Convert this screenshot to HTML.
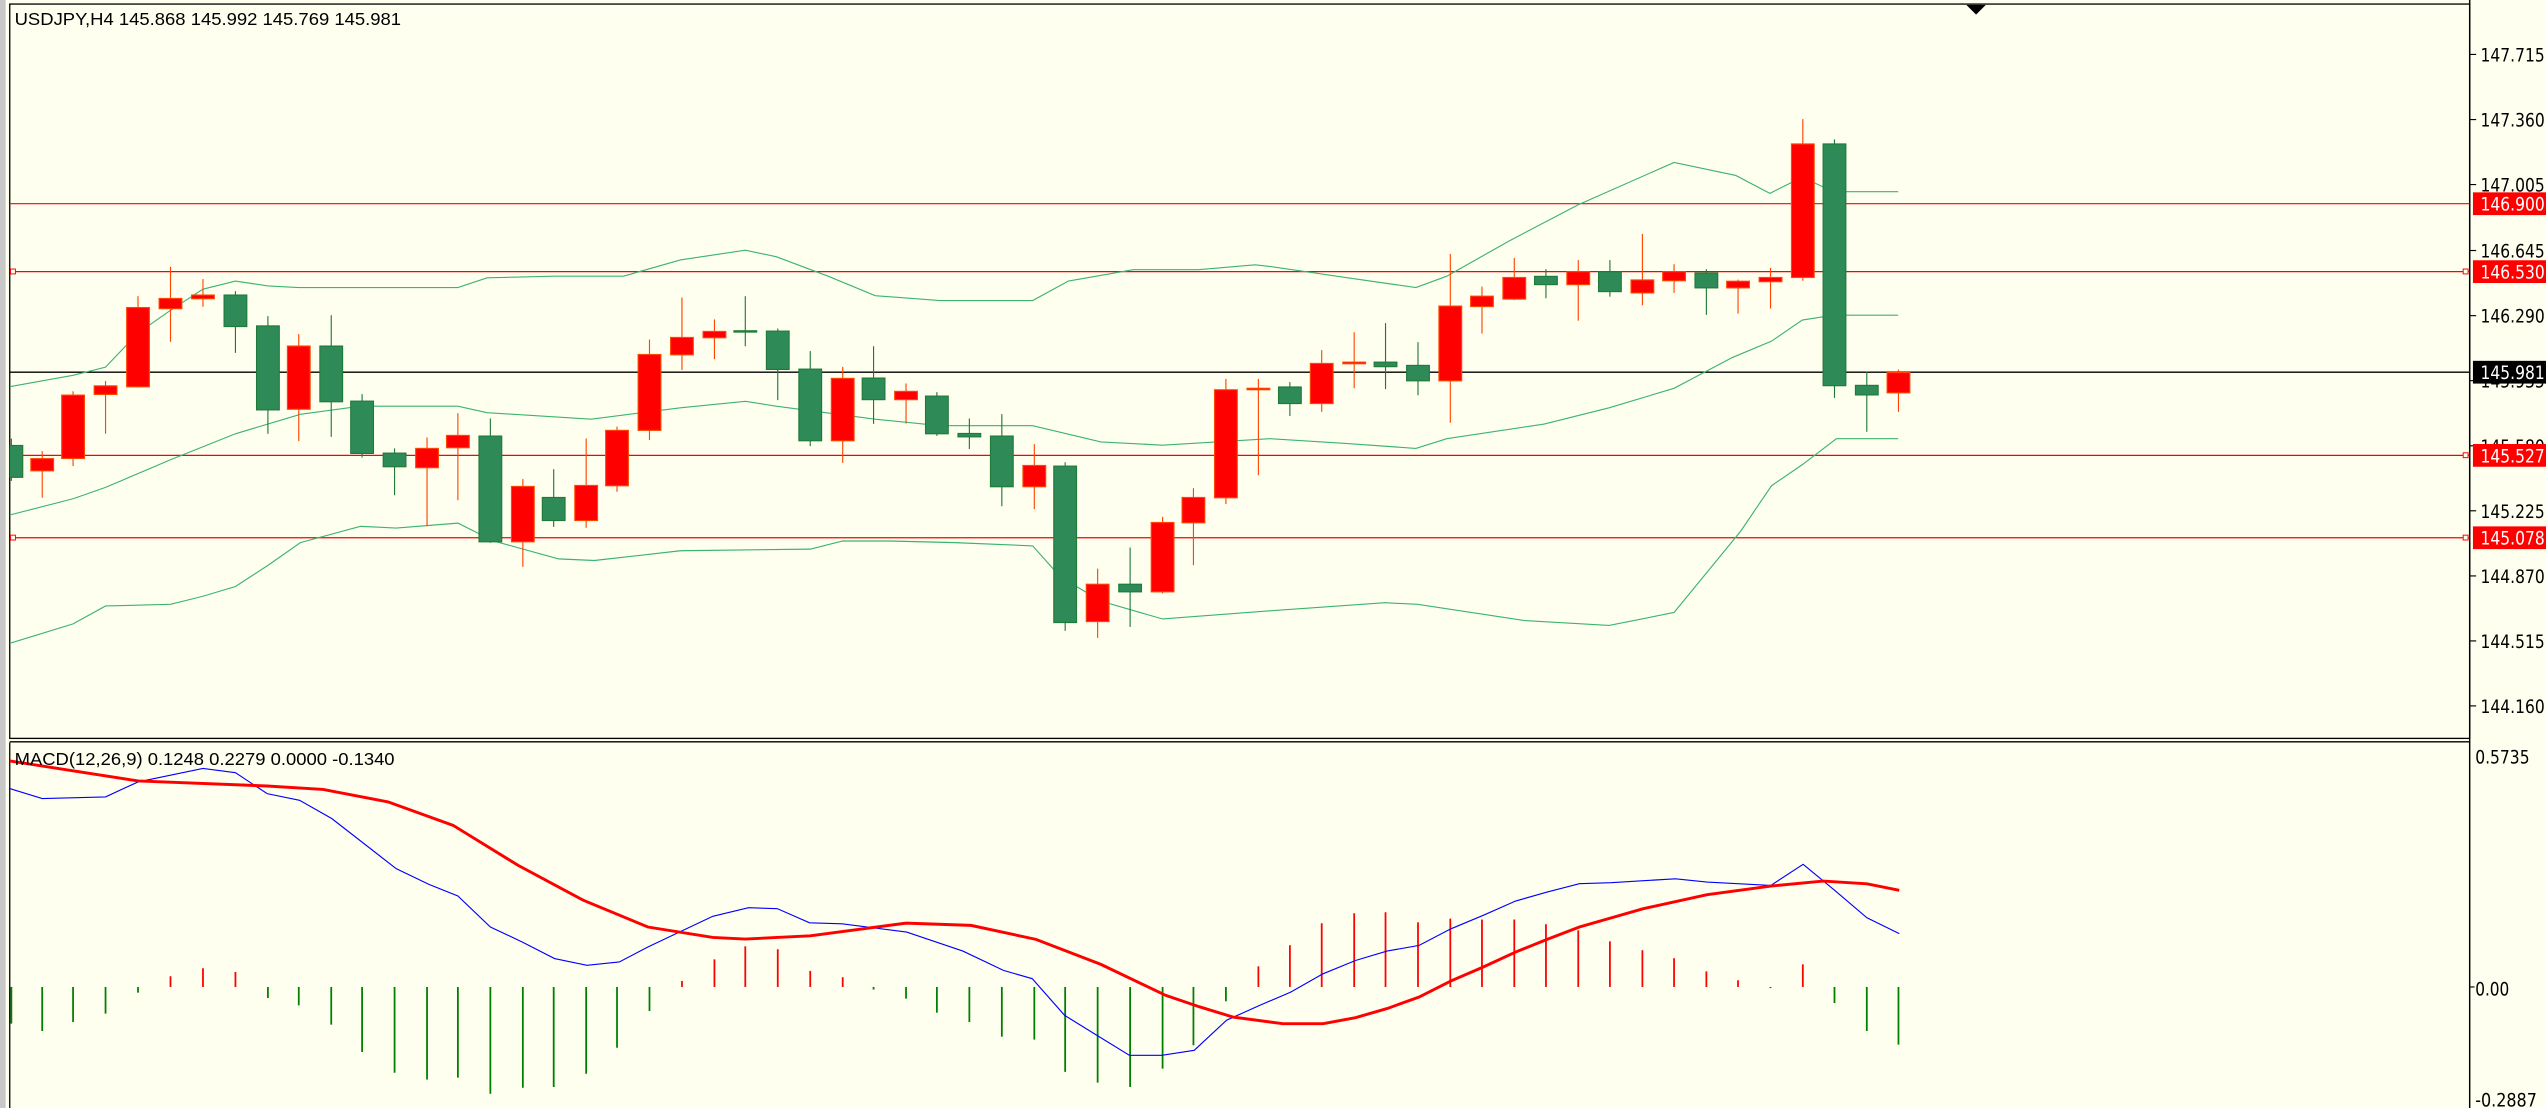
<!DOCTYPE html>
<html><head><meta charset="utf-8"><style>
html,body{margin:0;padding:0;background:#fffff0;overflow:hidden}
svg{display:block}
text{font-family:"DejaVu Sans","Liberation Sans",sans-serif}
.t{font-family:"Liberation Sans",sans-serif;font-size:11px;fill:#000}
.ax{font-size:11.5px;fill:#000}
.lw{font-size:11.5px;fill:#fff}
.r line{stroke:#ff4500;stroke-width:0.7}
.r rect{fill:#ff0000;stroke:#ff4500;stroke-width:0.7}
.g line{stroke:#1f7a3a;stroke-width:0.7}
.g rect{fill:#2e8b57;stroke:#1f7a3a;stroke-width:0.7}
</style></head><body>
<svg width="2546" height="1108" viewBox="0 0 1568 682" preserveAspectRatio="none" xmlns="http://www.w3.org/2000/svg">
<rect x="0" y="0" width="1568" height="682" fill="#fffff0"/>
<rect x="0" y="0" width="3.5" height="682" fill="#c8c8c8"/>
<defs><clipPath id="cp"><rect x="6" y="3" width="1515" height="452"/></clipPath>
<clipPath id="cm"><rect x="6" y="458" width="1515" height="224"/></clipPath></defs>
<!-- pane borders -->
<rect x="6" y="2.5" width="1515" height="452" fill="none" stroke="#000" stroke-width="0.8"/>
<line x1="6" y1="456.6" x2="1521" y2="456.6" stroke="#000" stroke-width="0.8"/>
<line x1="6" y1="457" x2="6" y2="682" stroke="#000" stroke-width="0.8"/>
<line x1="1521" y1="0" x2="1521" y2="682" stroke="#000" stroke-width="0.9"/>
<polygon points="1211,3 1223,3 1217,9" fill="#000"/>
<g clip-path="url(#cp)">
<!-- horizontal lines -->
<line x1="6" y1="125.4" x2="1521" y2="125.4" stroke="#ff0000" stroke-width="0.7"/>
<line x1="6" y1="167.2" x2="1521" y2="167.2" stroke="#ff0000" stroke-width="0.8"/>
<line x1="6" y1="280.3" x2="1521" y2="280.3" stroke="#ff0000" stroke-width="0.8"/>
<line x1="6" y1="331" x2="1521" y2="331" stroke="#ff0000" stroke-width="0.8"/>
<line x1="6" y1="229.1" x2="1521" y2="229.1" stroke="#000" stroke-width="0.8"/>
<g fill="#fffff0" stroke="#ff0000" stroke-width="0.6">
<rect x="6.5" y="165.6" width="3" height="3"/><rect x="6.5" y="278.7" width="3" height="3"/><rect x="6.5" y="329.4" width="3" height="3"/>
<rect x="1517" y="165.6" width="3" height="3"/><rect x="1517" y="278.7" width="3" height="3"/><rect x="1517" y="329.4" width="3" height="3"/>
</g>
<!-- bands -->
<g fill="none" stroke="#3cb371" stroke-width="0.7">
<polyline points="6,238 45,231 65,226 85,205 105,191 125,178 145,173 165,176 184,177 224,177 263,177 282,177 300,171 341,170 384,170 419,160 459,154 478,158 510,170 539,182 579,185 636,185 658,173 698,166 738,166 773,163 782,164 830,171 872,177 891,170 930,148 972,126 1031,100 1069,108 1090,119 1110,109 1129,118 1169,118"/>
<polyline points="6,317 45,307 65,300 105,283 145,267 185,255 222,250 282,250 300,254 364,258 419,251 459,247 478,250 539,258 579,262 636,262 678,272 716,274 782,270 830,273 872,276 891,270 951,261 991,251 1031,239 1067,220 1091,210 1110,197 1129,194 1169,194"/>
<polyline points="6,396 45,384 65,373 105,372 125,367 145,361 165,348 185,334 222,324 244,325 282,322 304,333 344,344 366,345 419,339 499,338 519,333 548,333 588,334 636,336 653,355 678,370 716,381 782,376 853,371 873,372 939,382 991,385 1031,377 1072,327 1091,299 1110,286 1131,270 1169,270"/>
</g>
<!-- candles -->
<g class="g"><line x1="7" y1="270" x2="7" y2="296"/><rect x="0" y="274.2" width="14" height="19.6"/></g>
<g class="r"><line x1="26" y1="277.7" x2="26" y2="306.4"/><rect x="19" y="282.3" width="14" height="7.5"/></g>
<g class="r"><line x1="45" y1="240.8" x2="45" y2="286.9"/><rect x="38" y="243.2" width="14" height="39"/></g>
<g class="r"><line x1="65" y1="234.5" x2="65" y2="267"/><rect x="58" y="237.5" width="14" height="5.3"/></g>
<g class="r"><line x1="85" y1="182.3" x2="85" y2="238.5"/><rect x="78" y="189.3" width="14" height="48.8"/></g>
<g class="r"><line x1="105" y1="164.2" x2="105" y2="210.4"/><rect x="98" y="183.7" width="14" height="6.3"/></g>
<g class="r"><line x1="125" y1="171.8" x2="125" y2="188.8"/><rect x="118" y="181.6" width="14" height="2.3"/></g>
<g class="g"><line x1="145" y1="179.2" x2="145" y2="217.2"/><rect x="138" y="181.6" width="14" height="19.4"/></g>
<g class="g"><line x1="165" y1="194.6" x2="165" y2="267"/><rect x="158" y="200.6" width="14" height="51.7"/></g>
<g class="r"><line x1="184" y1="205.6" x2="184" y2="271.5"/><rect x="177" y="213" width="14" height="38.9"/></g>
<g class="g"><line x1="204" y1="194" x2="204" y2="268.9"/><rect x="197" y="213" width="14" height="34.3"/></g>
<g class="g"><line x1="223" y1="242.6" x2="223" y2="281.6"/><rect x="216" y="246.9" width="14" height="32.2"/></g>
<g class="g"><line x1="243" y1="276" x2="243" y2="304.8"/><rect x="236" y="278.9" width="14" height="8.4"/></g>
<g class="r"><line x1="263" y1="269.3" x2="263" y2="323.9"/><rect x="256" y="276" width="14" height="11.9"/></g>
<g class="r"><line x1="282" y1="254.3" x2="282" y2="307.9"/><rect x="275" y="268" width="14" height="7.6"/></g>
<g class="g"><line x1="302" y1="257.6" x2="302" y2="334.1"/><rect x="295" y="268.4" width="14" height="65.1"/></g>
<g class="r"><line x1="322" y1="294.9" x2="322" y2="348.9"/><rect x="315" y="299.4" width="14" height="34.1"/></g>
<g class="g"><line x1="341" y1="288.8" x2="341" y2="324.3"/><rect x="334" y="306.2" width="14" height="14.2"/></g>
<g class="r"><line x1="361" y1="269.9" x2="361" y2="324.9"/><rect x="354" y="298.8" width="14" height="21.6"/></g>
<g class="r"><line x1="380" y1="262.6" x2="380" y2="302.7"/><rect x="373" y="264.9" width="14" height="34.1"/></g>
<g class="r"><line x1="400" y1="209" x2="400" y2="270.9"/><rect x="393" y="218.2" width="14" height="46.7"/></g>
<g class="r"><line x1="420" y1="183.1" x2="420" y2="227.8"/><rect x="413" y="207.7" width="14" height="10.7"/></g>
<g class="r"><line x1="440" y1="196.6" x2="440" y2="221.1"/><rect x="433" y="204" width="14" height="3.9"/></g>
<g class="g"><line x1="459" y1="182.3" x2="459" y2="213.1"/><rect x="452" y="203.6" width="14" height="0.8"/></g>
<g class="g"><line x1="479" y1="202.2" x2="479" y2="246.3"/><rect x="472" y="203.8" width="14" height="23.6"/></g>
<g class="g"><line x1="499" y1="216.1" x2="499" y2="274.6"/><rect x="492" y="227.2" width="14" height="44.1"/></g>
<g class="r"><line x1="519" y1="225.8" x2="519" y2="284.9"/><rect x="512" y="232.9" width="14" height="38.4"/></g>
<g class="g"><line x1="538" y1="213.1" x2="538" y2="260.9"/><rect x="531" y="232.7" width="14" height="13.3"/></g>
<g class="r"><line x1="558" y1="236" x2="558" y2="260.7"/><rect x="551" y="240.9" width="14" height="5.1"/></g>
<g class="g"><line x1="577" y1="241.4" x2="577" y2="268.3"/><rect x="570" y="243.8" width="14" height="23.2"/></g>
<g class="g"><line x1="597" y1="257.6" x2="597" y2="276.4"/><rect x="590" y="266.8" width="14" height="2.1"/></g>
<g class="g"><line x1="617" y1="254.9" x2="617" y2="311.6"/><rect x="610" y="268.4" width="14" height="31.2"/></g>
<g class="r"><line x1="637" y1="273.4" x2="637" y2="313.4"/><rect x="630" y="286.5" width="14" height="13.1"/></g>
<g class="g"><line x1="656" y1="284.5" x2="656" y2="388.3"/><rect x="649" y="286.9" width="14" height="96.3"/></g>
<g class="r"><line x1="676" y1="350" x2="676" y2="392.6"/><rect x="669" y="359.6" width="14" height="23"/></g>
<g class="g"><line x1="696" y1="337" x2="696" y2="385.9"/><rect x="689" y="359.6" width="14" height="4.7"/></g>
<g class="r"><line x1="716" y1="318.1" x2="716" y2="365.3"/><rect x="709" y="321.6" width="14" height="42.7"/></g>
<g class="r"><line x1="735" y1="300.5" x2="735" y2="347.9"/><rect x="728" y="306.2" width="14" height="15.6"/></g>
<g class="r"><line x1="755" y1="233.2" x2="755" y2="310.3"/><rect x="748" y="239.9" width="14" height="66.5"/></g>
<g class="r"><line x1="775" y1="233.2" x2="775" y2="292.5"/><rect x="768" y="239" width="14" height="0.9"/></g>
<g class="g"><line x1="794.4" y1="235.2" x2="794.4" y2="256.1"/><rect x="787.4" y="238.2" width="14" height="10.2"/></g>
<g class="r"><line x1="814" y1="215.5" x2="814" y2="253.5"/><rect x="807" y="223.7" width="14" height="24.7"/></g>
<g class="r"><line x1="834" y1="204.5" x2="834" y2="239"/><rect x="827" y="222.9" width="14" height="1"/></g>
<g class="g"><line x1="853.3" y1="198.9" x2="853.3" y2="239.5"/><rect x="846.3" y="222.9" width="14" height="2.8"/></g>
<g class="g"><line x1="873.3" y1="210.6" x2="873.3" y2="243.3"/><rect x="866.3" y="224.9" width="14" height="9.5"/></g>
<g class="r"><line x1="893.2" y1="156.3" x2="893.2" y2="260.2"/><rect x="886.2" y="188.4" width="14" height="46"/></g>
<g class="r"><line x1="912.7" y1="176.4" x2="912.7" y2="205.3"/><rect x="905.7" y="182.3" width="14" height="6.4"/></g>
<g class="r"><line x1="932.6" y1="158.8" x2="932.6" y2="184.6"/><rect x="925.6" y="170.8" width="14" height="13.3"/></g>
<g class="g"><line x1="952.1" y1="165.7" x2="952.1" y2="183.6"/><rect x="945.1" y="170.1" width="14" height="5.1"/></g>
<g class="r"><line x1="972" y1="160.1" x2="972" y2="197.4"/><rect x="965" y="167.2" width="14" height="8"/></g>
<g class="g"><line x1="991.5" y1="160.1" x2="991.5" y2="182.6"/><rect x="984.5" y="167.2" width="14" height="12.3"/></g>
<g class="r"><line x1="1011.5" y1="144" x2="1011.5" y2="187.9"/><rect x="1004.5" y="172.3" width="14" height="8"/></g>
<g class="r"><line x1="1031" y1="162.6" x2="1031" y2="180.3"/><rect x="1024" y="167.2" width="14" height="5.6"/></g>
<g class="g"><line x1="1050.9" y1="165.7" x2="1050.9" y2="193.8"/><rect x="1043.9" y="168" width="14" height="9.2"/></g>
<g class="r"><line x1="1070.4" y1="172.1" x2="1070.4" y2="193"/><rect x="1063.4" y="173.1" width="14" height="4.1"/></g>
<g class="r"><line x1="1090.4" y1="164.9" x2="1090.4" y2="189.9"/><rect x="1083.4" y="170.8" width="14" height="2.6"/></g>
<g class="r"><line x1="1110.3" y1="73.3" x2="1110.3" y2="172.8"/><rect x="1103.3" y="88.6" width="14" height="82.2"/></g>
<g class="g"><line x1="1129.8" y1="85.8" x2="1129.8" y2="244.9"/><rect x="1122.8" y="88.6" width="14" height="148.8"/></g>
<g class="g"><line x1="1149.7" y1="228.8" x2="1149.7" y2="265.8"/><rect x="1142.7" y="237.2" width="14" height="5.9"/></g>
<g class="r"><line x1="1169.2" y1="227.5" x2="1169.2" y2="253.5"/><rect x="1162.2" y="229.3" width="14" height="12.5"/></g>
</g>
<text class="t" x="9" y="15.4" textLength="238" lengthAdjust="spacingAndGlyphs">USDJPY,H4  145.868 145.992 145.769 145.981</text>
<!-- price axis -->
<g stroke="#000" stroke-width="0.7">
<line x1="1521" y1="33.5" x2="1525" y2="33.5"/><line x1="1521" y1="73.6" x2="1525" y2="73.6"/><line x1="1521" y1="113.6" x2="1525" y2="113.6"/><line x1="1521" y1="154.2" x2="1525" y2="154.2"/><line x1="1521" y1="194.3" x2="1525" y2="194.3"/><line x1="1521" y1="234.3" x2="1525" y2="234.3"/><line x1="1521" y1="274.4" x2="1525" y2="274.4"/><line x1="1521" y1="314.4" x2="1525" y2="314.4"/><line x1="1521" y1="354.5" x2="1525" y2="354.5"/><line x1="1521" y1="394.5" x2="1525" y2="394.5"/><line x1="1521" y1="434.5" x2="1525" y2="434.5"/>
<line x1="1521" y1="607.5" x2="1524" y2="607.5"/>
</g>
<g class="ax">
<text x="1527.7" y="37.8" textLength="39.5" lengthAdjust="spacingAndGlyphs">147.715</text>
<text x="1527.7" y="77.9" textLength="39.5" lengthAdjust="spacingAndGlyphs">147.360</text>
<text x="1527.7" y="117.9" textLength="39.5" lengthAdjust="spacingAndGlyphs">147.005</text>
<text x="1527.7" y="158.5" textLength="39.5" lengthAdjust="spacingAndGlyphs">146.645</text>
<text x="1527.7" y="198.6" textLength="39.5" lengthAdjust="spacingAndGlyphs">146.290</text>
<text x="1527.7" y="238.6" textLength="39.5" lengthAdjust="spacingAndGlyphs">145.935</text>
<text x="1527.7" y="278.7" textLength="39.5" lengthAdjust="spacingAndGlyphs">145.580</text>
<text x="1527.7" y="318.7" textLength="39.5" lengthAdjust="spacingAndGlyphs">145.225</text>
<text x="1527.7" y="358.8" textLength="39.5" lengthAdjust="spacingAndGlyphs">144.870</text>
<text x="1527.7" y="398.8" textLength="39.5" lengthAdjust="spacingAndGlyphs">144.515</text>
<text x="1527.7" y="438.8" textLength="39.5" lengthAdjust="spacingAndGlyphs">144.160</text>
<text x="1524.4" y="470" textLength="33.5" lengthAdjust="spacingAndGlyphs">0.5735</text>
<text x="1524.4" y="612.7" textLength="21" lengthAdjust="spacingAndGlyphs">0.00</text>
<text x="1524.4" y="681" textLength="38" lengthAdjust="spacingAndGlyphs">-0.2887</text>
</g>
<rect x="1523" y="118.4" width="45" height="14" fill="#ff0000"/>
<rect x="1523" y="160.2" width="45" height="14" fill="#ff0000"/>
<rect x="1523" y="273.3" width="45" height="14" fill="#ff0000"/>
<rect x="1523" y="324" width="45" height="14" fill="#ff0000"/>
<rect x="1523" y="222.1" width="45" height="14" fill="#000"/>
<g class="lw">
<text x="1527.7" y="129.7" textLength="39.5" lengthAdjust="spacingAndGlyphs">146.900</text>
<text x="1527.7" y="171.5" textLength="39.5" lengthAdjust="spacingAndGlyphs">146.530</text>
<text x="1527.7" y="284.6" textLength="39.5" lengthAdjust="spacingAndGlyphs">145.527</text>
<text x="1527.7" y="335.3" textLength="39.5" lengthAdjust="spacingAndGlyphs">145.078</text>
<text x="1527.7" y="233.4" textLength="39.5" lengthAdjust="spacingAndGlyphs">145.981</text>
</g>
<!-- MACD -->
<g clip-path="url(#cm)">
<g stroke="#008000" stroke-width="1.1">
<line x1="7" y1="607.5" x2="7" y2="630.1"/><line x1="26" y1="607.5" x2="26" y2="634.6"/><line x1="45" y1="607.5" x2="45" y2="629.1"/><line x1="65" y1="607.5" x2="65" y2="623.9"/><line x1="85" y1="607.5" x2="85" y2="611"/>
<line x1="165" y1="607.5" x2="165" y2="614.3"/><line x1="184" y1="607.5" x2="184" y2="618.8"/><line x1="204" y1="607.5" x2="204" y2="630.7"/><line x1="223" y1="607.5" x2="223" y2="647.5"/><line x1="243" y1="607.5" x2="243" y2="660.3"/><line x1="263" y1="607.5" x2="263" y2="664.5"/><line x1="282" y1="607.5" x2="282" y2="663.3"/><line x1="302" y1="607.5" x2="302" y2="673.2"/><line x1="322" y1="607.5" x2="322" y2="669.5"/><line x1="341" y1="607.5" x2="341" y2="669.1"/><line x1="361" y1="607.5" x2="361" y2="660.9"/><line x1="380" y1="607.5" x2="380" y2="644.9"/><line x1="400" y1="607.5" x2="400" y2="622.3"/>
<line x1="538" y1="607.5" x2="538" y2="609.1"/><line x1="558" y1="607.5" x2="558" y2="614.7"/><line x1="577" y1="607.5" x2="577" y2="623.3"/><line x1="597" y1="607.5" x2="597" y2="629.1"/><line x1="617" y1="607.5" x2="617" y2="638.1"/><line x1="637" y1="607.5" x2="637" y2="639.9"/><line x1="656" y1="607.5" x2="656" y2="659.8"/><line x1="676" y1="607.5" x2="676" y2="666.4"/><line x1="696" y1="607.5" x2="696" y2="669.1"/><line x1="716" y1="607.5" x2="716" y2="657.8"/><line x1="735" y1="607.5" x2="735" y2="643.4"/><line x1="755" y1="607.5" x2="755" y2="616.3"/>
<line x1="1090.4" y1="607.5" x2="1090.4" y2="608.2"/><line x1="1129.8" y1="607.5" x2="1129.8" y2="617.4"/><line x1="1149.7" y1="607.5" x2="1149.7" y2="634.6"/><line x1="1169.2" y1="607.5" x2="1169.2" y2="643"/>
</g>
<g stroke="#ff0000" stroke-width="1.1">
<line x1="105" y1="607.5" x2="105" y2="600.9"/><line x1="125" y1="607.5" x2="125" y2="596"/><line x1="145" y1="607.5" x2="145" y2="598.3"/>
<line x1="420" y1="607.5" x2="420" y2="603.8"/><line x1="440" y1="607.5" x2="440" y2="590.5"/><line x1="459" y1="607.5" x2="459" y2="582.5"/><line x1="479" y1="607.5" x2="479" y2="584.3"/><line x1="499" y1="607.5" x2="499" y2="597.6"/><line x1="519" y1="607.5" x2="519" y2="601.5"/>
<line x1="775" y1="607.5" x2="775" y2="594.8"/><line x1="794.4" y1="607.5" x2="794.4" y2="581.8"/><line x1="814" y1="607.5" x2="814" y2="568.3"/><line x1="834" y1="607.5" x2="834" y2="562.1"/><line x1="853.3" y1="607.5" x2="853.3" y2="561.5"/><line x1="873.3" y1="607.5" x2="873.3" y2="567.7"/><line x1="893.2" y1="607.5" x2="893.2" y2="565.4"/><line x1="912.7" y1="607.5" x2="912.7" y2="566"/><line x1="932.6" y1="607.5" x2="932.6" y2="566"/><line x1="952.1" y1="607.5" x2="952.1" y2="568.9"/><line x1="972" y1="607.5" x2="972" y2="572.6"/><line x1="991.5" y1="607.5" x2="991.5" y2="579.4"/><line x1="1011.5" y1="607.5" x2="1011.5" y2="584.9"/><line x1="1031" y1="607.5" x2="1031" y2="589.8"/><line x1="1050.9" y1="607.5" x2="1050.9" y2="597.9"/><line x1="1070.4" y1="607.5" x2="1070.4" y2="603.4"/><line x1="1110.3" y1="607.5" x2="1110.3" y2="593.6"/>
</g>
<polyline fill="none" stroke="#0000ff" stroke-width="0.7" points="6,485.4 26,491.5 65,490.5 85,481.3 125,473 145,475.6 164.5,488.5 184.5,492.6 204.4,503.9 244,534.7 264,544.3 282,551.5 302,570.6 321.6,579.8 341.5,590 361.5,594.2 381.4,592.1 399,582.9 439,564 461,558.7 478.7,559.3 498.6,568 518.6,568.6 558.4,573.7 593,585.4 618,597.3 635.7,602.4 655.7,625 675.6,637.3 695.6,649.6 715.5,649.6 735.5,646.5 755.4,628 775.6,618.9 794.9,610.7 814.8,599.4 834.8,591.2 854.2,585.4 874,581.9 893.6,571.7 913.5,563.4 933.4,554.6 952.8,549.1 972.7,543.9 992.1,543.3 1031.9,540.9 1051.3,542.9 1090.6,545 1110.5,532 1129.9,548 1149.8,564.9 1169.7,574.7"/>
<polyline fill="none" stroke="#ff0000" stroke-width="1.8" points="6,468.4 85,480.7 164.5,483.8 199,485.9 239,493.6 279,508 319,532.6 359,554 399,570.6 439,577 459,578 499,576 558,568.2 598,569.6 638,578.2 678,593.6 718,612.7 739,619.8 759.3,626 790,630.1 814.8,630.1 834.8,626.4 854.2,620.8 874,613.7 893.6,603.8 913.5,595.2 933.4,586 952.8,578.2 972.7,570.6 1012,559.3 1051.3,550.7 1090.6,545.4 1122.8,542.3 1149.8,544 1169.7,548"/>
</g>
<text class="t" x="9" y="471" textLength="234" lengthAdjust="spacingAndGlyphs">MACD(12,26,9) 0.1248 0.2279 0.0000 -0.1340</text>
</svg>
</body></html>
